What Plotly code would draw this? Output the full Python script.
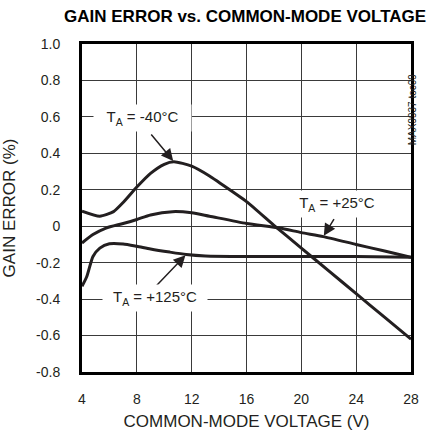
"""Gain error vs. common-mode voltage, three temperatures (datasheet style)."""

import plotly.graph_objects as go

FONT = '"Liberation Sans", Arial, sans-serif'
INK = "#231f20"
GRID = "#3a3a3a"

# -40 C
v_cold = [4, 5.3, 6.3, 7, 8, 9, 10, 10.7, 12, 13.3, 14, 16, 18, 20, 22, 24, 26, 28]
ge_cold = [0.083, 0.055, 0.08, 0.13, 0.215, 0.29, 0.34, 0.354, 0.33, 0.276, 0.24,
           0.135, 0.005, -0.12, -0.245, -0.37, -0.495, -0.62]

# +25 C
v_room = [4, 4.8, 5.75, 7, 8, 9, 10.6, 12, 13.3, 16, 18.4, 20, 21.6, 24, 26, 28]
ge_room = [-0.092, -0.046, -0.01, 0.015, 0.037, 0.062, 0.08, 0.074, 0.055,
           0.015, -0.01, -0.035, -0.057, -0.1, -0.135, -0.17]

# +125 C
v_hot = [4, 4.35, 4.8, 5.3, 6, 7, 8, 9, 10.4, 11.6, 13, 16, 20, 24, 28]
ge_hot = [-0.33, -0.276, -0.166, -0.12, -0.096, -0.097, -0.11, -0.125, -0.142,
          -0.155, -0.163, -0.166, -0.166, -0.166, -0.17]

x_ticks = [4, 8, 12, 16, 20, 24, 28]
y_ticks = [1.0, 0.8, 0.6, 0.4, 0.2, 0, -0.2, -0.4, -0.6, -0.8]
y_ticktext = ["1.0", "0.8", "0.6", "0.4", "0.2", "0", "-0.2", "-0.4", "-0.6", "-0.8"]

# label text, label centre (data), box width px, arrow tail (data), arrow head (curve point)
labels = [
    ("T<sub>A</sub> = -40°C", (8.41, 0.595), 95, (8.96, 0.512), (v_cold[7], ge_cold[7])),
    ("T<sub>A</sub> = +25°C", (22.6, 0.123), 98, (22.45, 0.047), (v_room[12], ge_room[12])),
    ("T<sub>A</sub> = +125°C", (9.32, -0.395), 102, (9.32, -0.335), (v_hot[9], ge_hot[9])),
]

fig = go.Figure()
for vx, gy in [(v_cold, ge_cold), (v_room, ge_room), (v_hot, ge_hot)]:
    fig.add_trace(go.Scatter(
        x=vx, y=gy, mode="lines", line=dict(color=INK, width=3, shape="spline", smoothing=0.6),
        hoverinfo="skip",
    ))

for text, (lx, ly), box_w, (tx, ty), (hx, hy) in labels:
    fig.add_annotation(
        x=hx, y=hy, ax=tx, ay=ty, axref="x", ayref="y", xref="x", yref="y",
        text="", showarrow=True, arrowhead=2, arrowsize=1.6, arrowwidth=1.5,
        arrowcolor=INK, standoff=1,
    )
    fig.add_annotation(
        x=lx, y=ly, xref="x", yref="y", text=text, showarrow=False,
        bgcolor="white", width=box_w, height=24,
        font=dict(family=FONT, size=15, color=INK),
    )

fig.add_annotation(
    x=1.030, y=0.918, xref="paper", yref="paper", text="MAX9937 toc09",
    textangle=-90, showarrow=False, font=dict(family=FONT, size=10, color=INK),
)

fig.update_layout(
    width=427, height=433,
    paper_bgcolor="white", plot_bgcolor="white",
    margin=dict(l=82, r=16, t=44, b=61),
    showlegend=False,
    font=dict(family=FONT, size=14, color=INK),
    title=dict(
        text="<b>GAIN ERROR vs. COMMON-MODE VOLTAGE</b>",
        x=0.574, xanchor="center", y=0.963, yanchor="middle",
        font=dict(family=FONT, size=17, color="black"),
        automargin=False,
    ),
)
fig.update_xaxes(
    range=[4, 28], tickvals=x_ticks, ticks="outside", ticklen=0,
    showgrid=True, gridcolor=GRID, gridwidth=1.3, zeroline=False,
    showline=True, linecolor="black", linewidth=3, mirror=True,
    ticklabelstandoff=12, automargin=False,
    title=dict(text="COMMON-MODE VOLTAGE (V)", standoff=10),
)
fig.update_yaxes(
    range=[-0.8, 1.0], tickvals=y_ticks, ticktext=y_ticktext, ticks="outside", ticklen=0,
    showgrid=True, gridcolor=GRID, gridwidth=1.3, zeroline=False,
    showline=True, linecolor="black", linewidth=3, mirror=True,
    ticklabelstandoff=16, automargin=False,
    title=dict(text="GAIN ERROR (%)", standoff=18),
)

# page body has a default 8px margin; drop it so the figure sits at 0,0
fig.write_html("out.html", config={"displayModeBar": False},
               post_script="document.body.style.margin='0';")
